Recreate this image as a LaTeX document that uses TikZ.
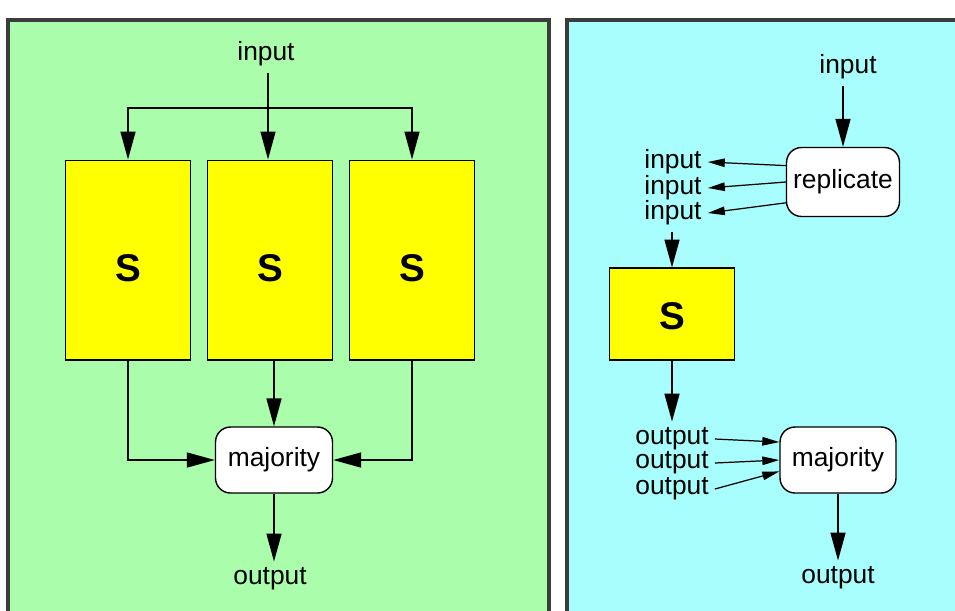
\documentclass[tikz,border=0pt]{standalone}
\usepackage{fontspec}
\setmainfont{Liberation Sans}
\usetikzlibrary{arrows.meta, positioning, calc}
\definecolor{spacegreen}{RGB}{170,253,170}
\definecolor{timecyan}{RGB}{168,253,253}
\definecolor{boxyellow}{RGB}{255,255,0}
\definecolor{panelgray}{RGB}{60,60,60}

\begin{document}
\begin{tikzpicture}[x=0.02cm,y=-0.02cm,
        every node/.style={font=\fontsize{15}{18}\selectfont},
        sbox/.style={draw,fill=boxyellow,line width=0.6pt,minimum width=2.5cm,
            font=\fontsize{22}{26}\selectfont\bfseries,text height=0.85cm,text depth=0pt},
        vote/.style={draw,fill=white,rounded corners=0.3cm,line width=0.8pt,
            minimum height=1.32cm},
        panel/.style={draw=panelgray,line width=1.8pt},
        arr/.style={-{Triangle[length=0.56cm,width=0.3cm]},line width=0.9pt},
        smallarr/.style={-{Triangle[length=0.34cm,width=0.17cm]},line width=0.7pt}
    ]
        \clip (0,0) rectangle (955,610);
        \fill[white] (0,0) rectangle (955,610);

        % Panels
        \draw[panel,fill=spacegreen] (8,20) rectangle (549,650);
        \draw[panel,fill=timecyan] (567,20) rectangle (1000,650);

        % Left: three copies side by side
        \node (in) at (266,54) {input};
        \node[sbox,minimum height=4cm] (s1) at (128,260) {S};
        \node[sbox,minimum height=4cm] (s2) at (270,260) {S};
        \node[sbox,minimum height=4cm] (s3) at (412,260) {S};
        \node[vote,minimum width=2.34cm] (maj) at (274,460) {majority};
        \node (out) at (270,579) {output};
        \coordinate (split) at (268,108);

        \draw[arr] (in.south -| split) -- (split |- s2.north);
        \draw[arr] (split) -| (s1.north);
        \draw[arr] (split) -| (s3.north);
        \draw[arr] (s1.south) |- (maj.west);
        \draw[arr] (s2.south -| maj.north) -- (maj.north);
        \draw[arr] (s3.south) |- (maj.east);
        \draw[arr] (maj.south) -- (maj.south |- out.north);

        % Right: one copy run three times
        \node (in2) at (848,67) {input};
        \node[vote,minimum width=2.26cm,minimum height=1.38cm] (rep) at (843,182) {replicate};
        \node (i1) at (673,162) {input};
        \node (i2) at (673,188) {input};
        \node (i3) at (673,213) {input};
        \node[sbox,minimum height=1.84cm,text height=0.6cm] (s4) at (672,314) {S};
        \node (o1) at (672,439) {output};
        \node (o2) at (672,463) {output};
        \node (o3) at (672,489) {output};
        \node[vote,minimum width=2.32cm] (maj2) at (838,460) {majority};
        \node (out2) at (838,578) {output};

        \draw[arr] (in2.south -| rep.north) -- (rep.north);
        \draw[smallarr] (rep.164) -- (i1.east);
        \draw[smallarr] (rep.west) -- (i2.east);
        \draw[smallarr] (rep.200) -- (i3.east);
        \draw[arr] (i3.south -| s4.north) -- (s4.north);
        \draw[arr] (s4.south) -- (o1.north -| s4.south);
        \draw[smallarr] (o1.east) -- (maj2.163);
        \draw[smallarr] (o2.east) -- (maj2.west);
        \draw[smallarr] (o3.east) -- (maj2.191);
        \draw[arr] (maj2.south) -- (out2.north);
\end{tikzpicture}
\end{document}
